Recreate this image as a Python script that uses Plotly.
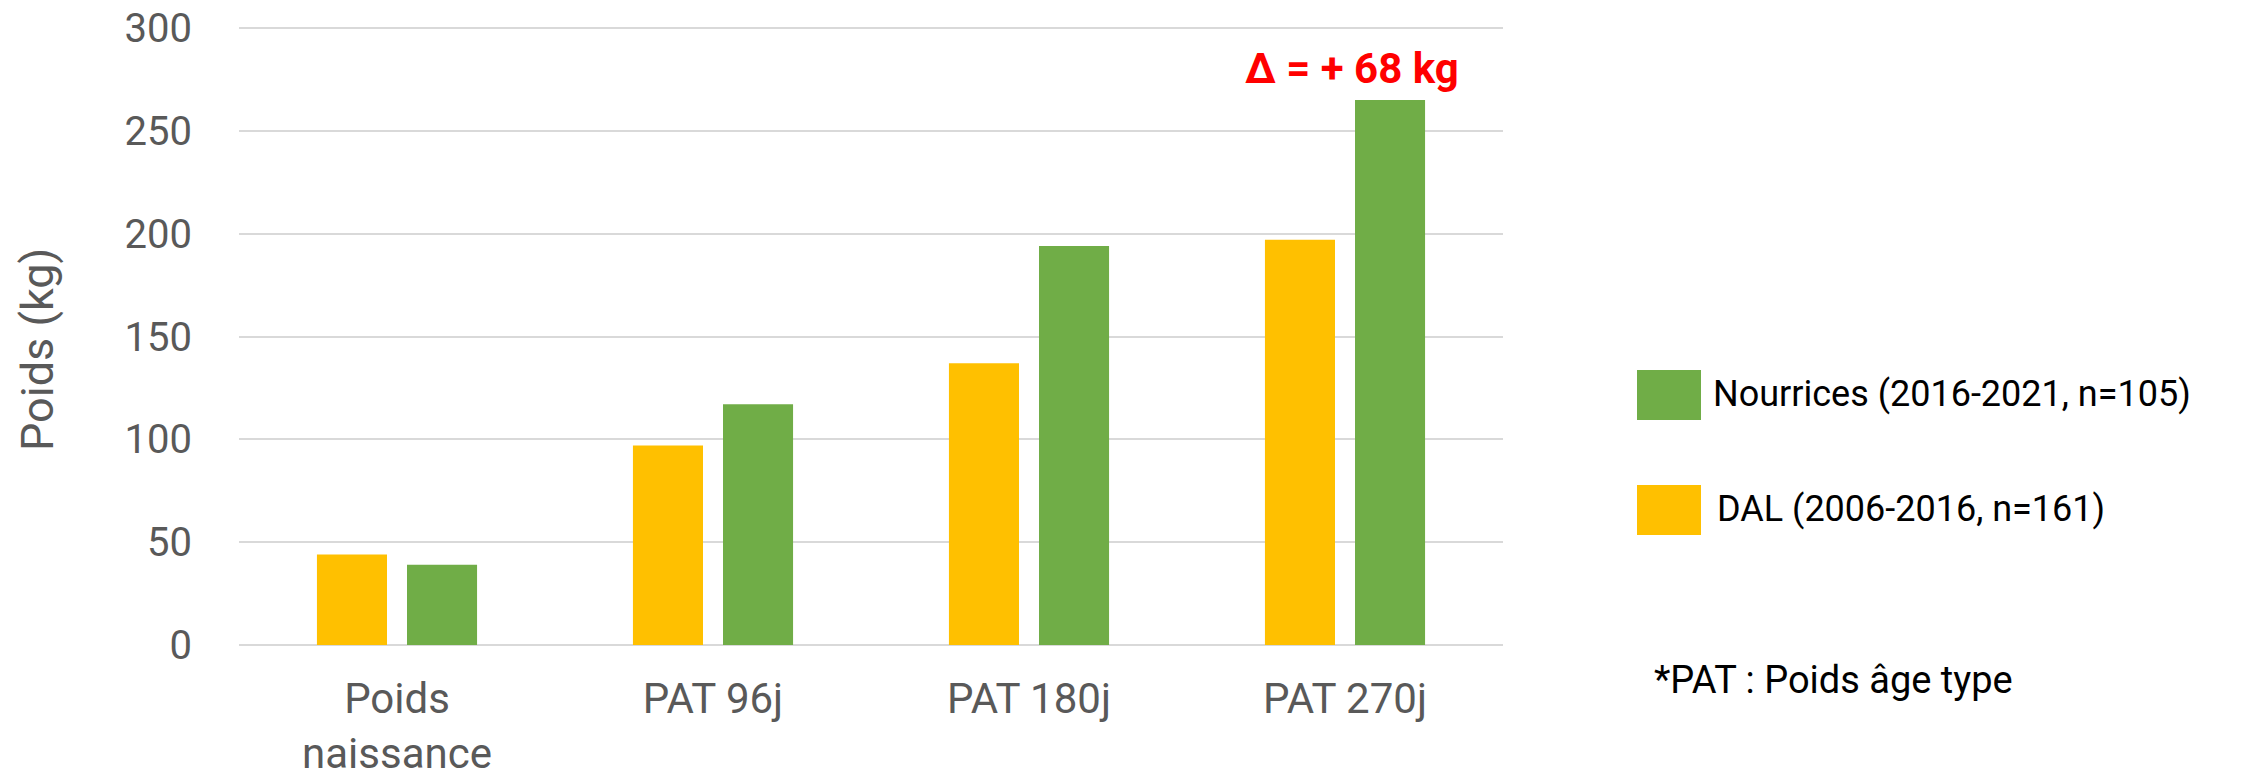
import plotly.graph_objects as go

categories = ["Poids<br>naissance", "PAT 96j", "PAT 180j", "PAT 270j"]
dal_values = [44, 97, 137, 197]
nourrices_values = [39, 117, 194, 265]
dal_name = "DAL (2006-2016, n=161)"
nourrices_name = "Nourrices (2016-2021, n=105)"
delta_label = "Δ = + 68 kg"
footnote = "*PAT : Poids âge type"
y_title = "Poids (kg)"
y_ticks = [0, 50, 100, 150, 200, 250, 300]

W, H = 2254, 782
# plot area in page pixels (top slightly above the 300 gridline so it is drawn)
L, R, T, B = 239, 1503, 26, 645
Y_MAX = (B - T) * 300 / (645 - 28)
YELLOW = "#FFC000"
GREEN = "#70AD47"
GREY = "#595959"

def px(x):
    return (x - L) / (R - L)

def py(y):
    return (B - y) / (B - T)

fig = go.Figure()
fig.add_trace(go.Bar(x=categories, y=dal_values, name=dal_name,
                     marker=dict(color=YELLOW, line=dict(width=0)), showlegend=False))
fig.add_trace(go.Bar(x=categories, y=nourrices_values, name=nourrices_name,
                     marker=dict(color=GREEN, line=dict(width=0)), showlegend=False))

tick_font = dict(family="Roboto", size=40, color=GREY)
xtick_font = dict(family="Roboto", size=42, color=GREY)
legend_font = dict(family="Roboto", size=36, color="#000000")

fig.update_layout(
    template="none",
    width=W, height=H, autosize=False,
    margin=dict(l=L, r=W - R, t=T, b=H - B, pad=0, autoexpand=False),
    paper_bgcolor="white", plot_bgcolor="white",
    barmode="group", bargap=0.43, bargroupgap=0.222,
    xaxis=dict(tickfont=xtick_font, showgrid=False, showline=False, zeroline=False,
               ticks="", ticklabelstandoff=25, automargin=False, fixedrange=True),
    yaxis=dict(range=[0, Y_MAX], tickvals=y_ticks, tickfont=tick_font,
               gridcolor="#D9D9D9", gridwidth=2, zeroline=True, zerolinecolor="#D9D9D9",
               zerolinewidth=2, showline=False, ticks="", ticklabelstandoff=46,
               ticklabeloverflow="allow", automargin=False, fixedrange=True),
)

annotations = [
    dict(text=y_title, x=px(37), y=py(350), xref="paper", yref="paper", textangle=-90,
         showarrow=False, xanchor="center", yanchor="middle",
         font=dict(family="Roboto", size=45, color=GREY)),
    dict(text="<b>" + delta_label + "</b>", x=px(1352), y=py(69), xref="paper", yref="paper",
         showarrow=False, xanchor="center", yanchor="middle",
         font=dict(family="Roboto", size=42, color="#FF0000")),
    dict(text=nourrices_name, x=px(1711), y=py(394), xref="paper", yref="paper",
         showarrow=False, xanchor="left", yanchor="middle", font=legend_font),
    dict(text=dal_name, x=px(1715), y=py(509), xref="paper", yref="paper",
         showarrow=False, xanchor="left", yanchor="middle", font=legend_font),
    dict(text=footnote, x=px(1652), y=py(680), xref="paper", yref="paper",
         showarrow=False, xanchor="left", yanchor="middle",
         font=dict(family="Roboto", size=38, color="#000000")),
]
fig.update_layout(annotations=annotations)

shapes = [
    dict(type="rect", xref="paper", yref="paper", x0=px(1637), x1=px(1701),
         y0=py(370), y1=py(420), fillcolor=GREEN, line=dict(width=0)),
    dict(type="rect", xref="paper", yref="paper", x0=px(1637), x1=px(1701),
         y0=py(485), y1=py(535), fillcolor=YELLOW, line=dict(width=0)),
]
fig.update_layout(shapes=shapes)

fig.write_html("out.html", config={"displayModeBar": False},
               post_script="document.body.style.margin='0px';")
